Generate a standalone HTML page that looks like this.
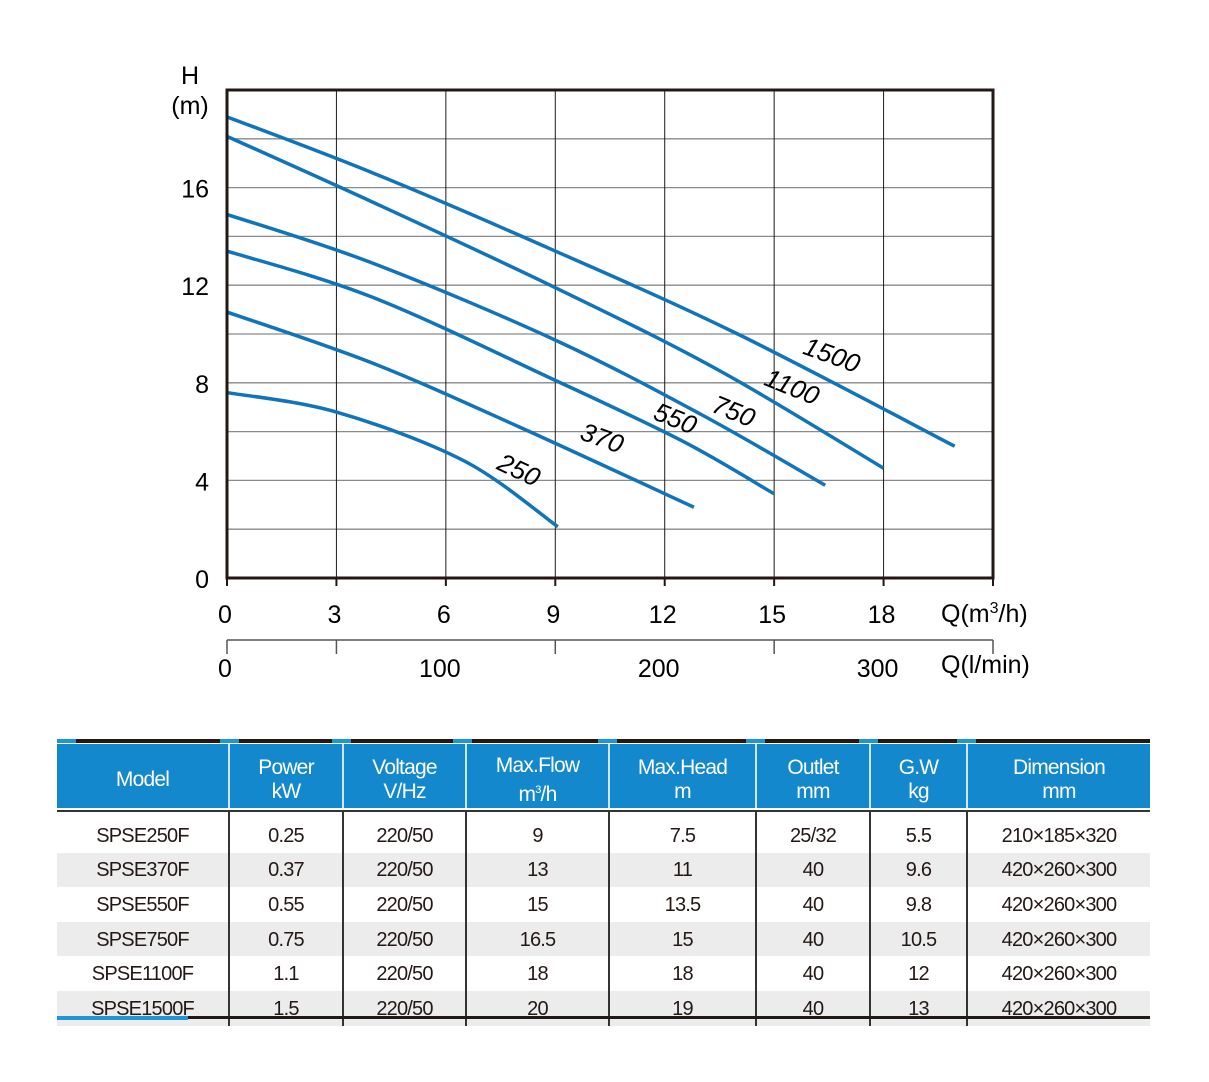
<!DOCTYPE html>
<html><head><meta charset="utf-8">
<style>
body{margin:0;background:#fff;width:1209px;height:1082px;overflow:hidden;font-family:"Liberation Sans",sans-serif}
svg{position:absolute;left:0;top:0}
table{position:absolute;left:57px;top:744px;width:1093px;border-collapse:collapse;table-layout:fixed;font-size:20px;letter-spacing:-0.8px;color:#231815}
th{background:#1388cc;color:#fff;font-weight:normal;height:64px;line-height:24px;border-left:2px solid #cfe6f5;padding:4px 0 0 0;font-size:21px}
th:first-child{border-left:none}
td{text-align:center;height:32.6px;padding:2px 0 0 0;border-left:2px solid #333}
td:first-child{border-left:none}
tr.g td{background:#ececec}
tr.first td{padding-top:8px}
</style></head><body>
<svg width="1209" height="1082">
<g id="grid"></g><g id="curves"></g><g id="labels"></g>
<rect x="227" y="90" width="766" height="488" fill="none" stroke="#231815" stroke-width="3"/>
<text x="190" y="84" font-size="25" text-anchor="middle">H</text>
<text x="190" y="114" font-size="25" text-anchor="middle">(m)</text>
<text x="941" y="622" font-size="25">Q(m<tspan font-size="16" dy="-9">3</tspan><tspan dy="9">/h)</tspan></text>
<text x="941" y="673" font-size="25">Q(l/min)</text>
<line x1="227" y1="640" x2="993" y2="640" stroke="#555" stroke-width="1.5"/>
</svg>
<table>
<colgroup><col style="width:172px"><col style="width:114px"><col style="width:123px"><col style="width:143px"><col style="width:147px"><col style="width:114px"><col style="width:97px"><col></colgroup>
<tr><th>Model</th><th>Power<br>kW</th><th>Voltage<br>V/Hz</th><th>Max.Flow<br>m<sup style="font-size:11px">3</sup>/h</th><th>Max.Head<br>m</th><th>Outlet<br>mm</th><th>G.W<br>kg</th><th>Dimension<br>mm</th></tr>
<tr class="first"><td>SPSE250F</td><td>0.25</td><td>220/50</td><td>9</td><td>7.5</td><td>25/32</td><td>5.5</td><td>210×185×320</td></tr>
<tr class="g"><td>SPSE370F</td><td>0.37</td><td>220/50</td><td>13</td><td>11</td><td>40</td><td>9.6</td><td>420×260×300</td></tr>
<tr><td>SPSE550F</td><td>0.55</td><td>220/50</td><td>15</td><td>13.5</td><td>40</td><td>9.8</td><td>420×260×300</td></tr>
<tr class="g"><td>SPSE750F</td><td>0.75</td><td>220/50</td><td>16.5</td><td>15</td><td>40</td><td>10.5</td><td>420×260×300</td></tr>
<tr><td>SPSE1100F</td><td>1.1</td><td>220/50</td><td>18</td><td>18</td><td>40</td><td>12</td><td>420×260×300</td></tr>
<tr class="g"><td>SPSE1500F</td><td>1.5</td><td>220/50</td><td>20</td><td>19</td><td>40</td><td>13</td><td>420×260×300</td></tr>
</table>
<div style="position:absolute;left:57px;top:739px;width:1093px;height:4px;background:#231815"></div>
<div id="blues"></div>
<div style="position:absolute;left:57px;top:808px;width:1093px;height:2px;background:#fff;border-bottom:2px solid #333"></div>
<div style="position:absolute;left:57px;top:1016px;width:1093px;height:3px;background:#231815"></div>
<div style="position:absolute;left:57px;top:1016px;width:131px;height:4px;background:#1f95d6"></div>
<script>
const xTicks=[0,3,6,9,12,15,18];
const yTicks=[0,4,8,12,16];
const lminTicks=[0,100,200,300];
const series1500=[[0,18.9],[4,16.6],[9,13.4],[14,10.0],[19.95,5.4]];
const series1100=[[0,18.1],[4,15.4],[9,11.9],[13.5,8.5],[18,4.5]];
const series750=[[0,14.9],[4,12.9],[9,9.75],[13,6.7],[16.4,3.8]];
const series550=[[0,13.4],[4,11.5],[9,8.1],[12.5,5.6],[15,3.45]];
const series370=[[0,10.9],[4,8.8],[8,6.2],[12.8,2.9]];
const series250=[[0,7.6],[3,6.8],[6.5,4.8],[9.07,2.1]];
const seriesNames=["1500","1100","750","550","370","250"];
const allSeries=[series1500,series1100,series750,series550,series370,series250];
const labelPos=[[16.5,8.8,20],[15.4,7.5,22],[13.8,6.5,22],[12.2,6.2,22],[10.2,5.4,20],[7.9,4.1,25]];
const X=v=>227+v*766/21, Y=v=>578-v*488/20;
const NS="http://www.w3.org/2000/svg";
function mk(tag,attrs,parent){const e=document.createElementNS(NS,tag);for(const k in attrs)e.setAttribute(k,attrs[k]);parent.appendChild(e);return e;}
const svg=document.querySelector('svg'),grid=document.getElementById('grid'),curves=document.getElementById('curves'),labels=document.getElementById('labels');
for(let v=2;v<20;v+=2){const l=mk('line',{x1:227,x2:993,y1:Y(v),y2:Y(v),stroke:'#8a8a8a','stroke-width':1.3},grid);

}
for(let v=3;v<21;v+=3){const l=mk('line',{x1:X(v),x2:X(v),y1:90,y2:578,stroke:'#231815','stroke-width':1},grid);

}
xTicks.concat([21]).forEach(v=>{const l=mk('line',{x1:X(v),x2:X(v),y1:578,y2:586,stroke:'#231815','stroke-width':2},grid);

});
xTicks.forEach(v=>{const t=mk('text',{x:X(v)-2,y:623,'font-size':25,'text-anchor':'middle'},svg);t.textContent=v;

});
yTicks.forEach(v=>{const t=mk('text',{x:209,y:Y(v)+10,'font-size':25,'text-anchor':'end'},svg);t.textContent=v;

});
for(let v=0;v<=350;v+=50){if(v%100==50||v==0){const xx=X(v*0.06);const l=mk('line',{x1:xx,x2:xx,y1:640,y2:654,stroke:'#555','stroke-width':1.5},svg);

}}
lminTicks.forEach(v=>{const t=mk('text',{x:X(v*0.06)-(v?6:2),y:677,'font-size':25,'text-anchor':'middle'},svg);t.textContent=v;

});
function path(pts){const p=pts.map(d=>[X(d[0]),Y(d[1])]);let s='M'+p[0][0]+','+p[0][1];
for(let i=0;i<p.length-1;i++){const p0=p[i-1]||p[i],p1=p[i],p2=p[i+1],p3=p[i+2]||p2;
s+=' C'+(p1[0]+(p2[0]-p0[0])/6)+','+(p1[1]+(p2[1]-p0[1])/6)+' '+(p2[0]-(p3[0]-p1[0])/6)+','+(p2[1]-(p3[1]-p1[1])/6)+' '+p2[0]+','+p2[1];}return s;}
allSeries.forEach((s,i)=>{const e=mk('path',{d:path(s),fill:'none',stroke:'#0f74b9','stroke-width':3.5},curves);


const lp=labelPos[i];const t=mk('text',{x:X(lp[0]),y:Y(lp[1]),'font-size':26,'font-style':'italic','text-anchor':'middle',transform:`rotate(${lp[2]} ${X(lp[0])} ${Y(lp[1])})`},labels);t.textContent=seriesNames[i];

});
const blues=document.getElementById('blues');
[57,220,332,453,598,746,859,957].forEach(x=>{const d=document.createElement('div');d.style.cssText=`position:absolute;left:${x}px;top:739px;width:19px;height:4px;background:#1f95d6`;


blues.appendChild(d);});
</script>
</body></html>
